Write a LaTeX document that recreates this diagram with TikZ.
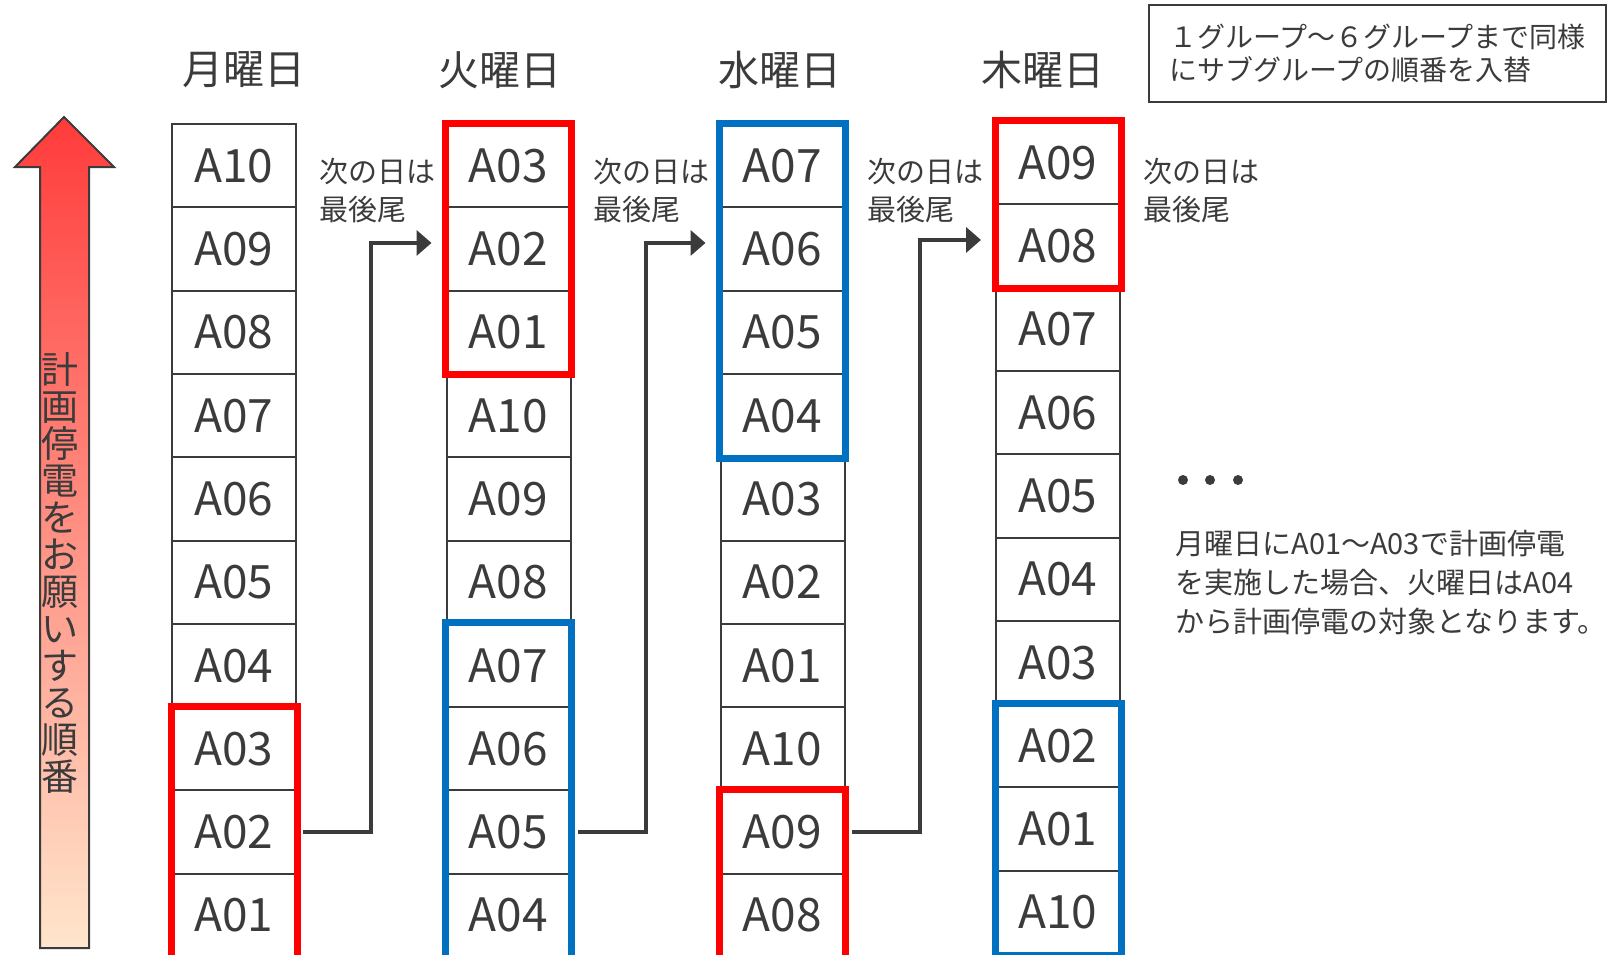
\documentclass[tikz,border=0pt]{standalone}
\usepackage{fontspec}
\setmainfont{Noto Sans CJK JP}
\usetikzlibrary{positioning, arrows.meta}

\definecolor{darkline}{HTML}{3B3B3B}
\definecolor{markred}{HTML}{FF0000}
\definecolor{markblue}{HTML}{0070C0}
\definecolor{arrowtop}{HTML}{FF3B3B}
\definecolor{arrowbottom}{HTML}{FFE6CC}

\begin{document}
\begin{tikzpicture}[
		x=0.5pt, y=-0.5pt,
		daycell/.style={draw=darkline, line width=1pt, minimum width=62pt, minimum height=41.65pt, inner sep=0pt, text=darkline, font=\fontsize{23}{27}\selectfont},
		redbox/.style={draw=markred, line width=3.5pt},
		bluebox/.style={draw=markblue, line width=3.5pt},
		dayhead/.style={text=darkline, font=\fontsize{20.5}{24}\selectfont},
		nextday/.style={text=darkline, align=left, anchor=west, inner sep=0pt, font=\fontsize{14.5}{19}\selectfont},
		conn/.style={draw=darkline, line width=2pt, -{Triangle[length=7.5pt, width=12.5pt]}},
		>=stealth
	]
	\useasboundingbox (0,0) rectangle (1612,954);

	% order arrow
	\path [draw=darkline, line width=1pt, top color=arrowtop, bottom color=arrowbottom]
		(40,948) -- (40,167) -- (15,167) -- (64,117) -- (114,167) -- (89,167) -- (89,948) -- cycle;
	\node [text=darkline, align=center, inner sep=0pt, font=\fontsize{18.5}{18.5}\selectfont] (order) at (60,573)
		{計\\画\\停\\電\\を\\お\\願\\い\\す\\る\\順\\番};

	% day headers
	\foreach \d/\x/\t in {mon/244/月曜日, tue/500/火曜日, wed/780/水曜日, thu/1043/木曜日}
		\node [dayhead] (\d-head) at (\x, 70) {\t};

	% sub groups per day
	\foreach \a [count=\i] in {10,09,08,07,06,05,04,03,02,01}
		\node [daycell] (mon-\i) at (234, 82.35+83.3*\i) {A\a};

	\foreach \a [count=\i] in {03,02,01,10,09,08,07,06,05,04}
		\node [daycell] (tue-\i) at (508.5, 82.35+83.3*\i) {A\a};

	\foreach \a [count=\i] in {07,06,05,04,03,02,01,10,09,08}
		\node [daycell] (wed-\i) at (782.5, 82.35+83.3*\i) {A\a};

	\foreach \a [count=\i] in {09,08,07,06,05,04,03,02,01,10}
		\node [daycell] (thu-\i) at (1058, 79.35+83.3*\i) {A\a};

	% marked groups
	\draw [redbox] (mon-8.north west) rectangle (mon-10.south east);
	\draw [redbox] (tue-1.north west) rectangle (tue-3.south east);
	\draw [bluebox] (tue-7.north west) rectangle (tue-10.south east);
	\draw [bluebox] (wed-1.north west) rectangle (wed-4.south east);
	\draw [redbox] (wed-9.north west) rectangle (wed-10.south east);
	\draw [redbox] (thu-1.north west) rectangle (thu-2.south east);
	\draw [bluebox] (thu-8.north west) rectangle (thu-10.south east);

	% moved to the end on the next day
	\foreach \a/\b in {mon/tue, tue/wed, wed/thu}
		\draw [conn] ([xshift=3pt]\a-9.east) -- ++(34pt,0) |- ([xshift=-7pt, yshift=3pt]\b-2.west);

	\foreach \d/\s in {mon/-12.5pt, tue/-12.5pt, wed/-12.5pt, thu/-14pt}
		\node [nextday] (\d-next) at ([xshift=11pt, yshift=\s]\d-1.east) {次の日は\\最後尾};

	% notes
	\node [draw=darkline, line width=0.8pt, minimum width=228.5pt, minimum height=48.5pt, align=left, text=darkline, font=\fontsize{14}{16.5}\selectfont] (rule) at (1377.5,53.5)
		{１グループ～６グループまで同様\\にサブグループの順番を入替};

	\foreach \x [count=\i] in {1183, 1210, 1238}
		\fill [darkline] (\x,480) circle (5);

	\node [anchor=west, align=left, inner sep=0pt, text=darkline, font=\fontsize{14.5}{19.5}\selectfont] (example) at (1175,583)
		{月曜日にA01～A03で計画停電\\を実施した場合、火曜日はA04\\から計画停電の対象となります。};
\end{tikzpicture}
\end{document}
